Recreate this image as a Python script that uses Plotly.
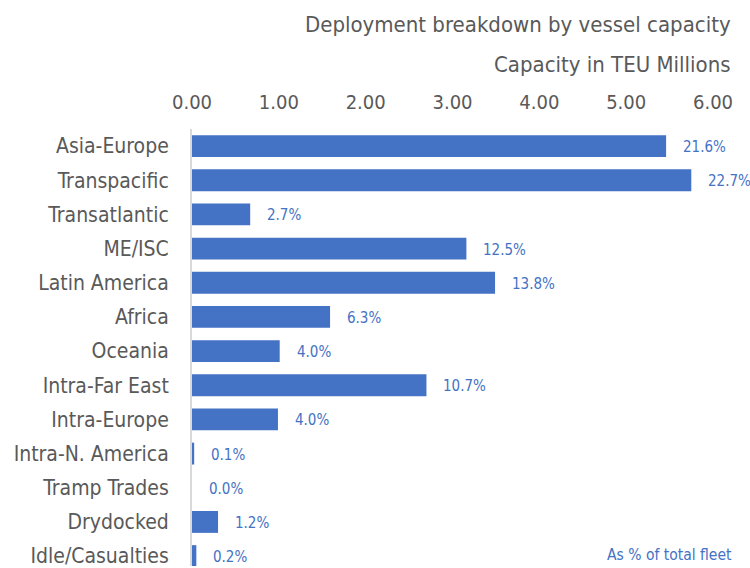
import plotly.graph_objects as go

categories = ["Asia-Europe", "Transpacific", "Transatlantic", "ME/ISC", "Latin America",
              "Africa", "Oceania", "Intra-Far East", "Intra-Europe", "Intra-N. America",
              "Tramp Trades", "Drydocked", "Idle/Casualties"]
capacity_m = [5.46, 5.75, 0.67, 3.16, 3.49, 1.59, 1.01, 2.70, 0.99, 0.025, 0.0, 0.30, 0.05]
share_labels = ["21.6%", "22.7%", "2.7%", "12.5%", "13.8%", "6.3%", "4.0%", "10.7%",
                "4.0%", "0.1%", "0.0%", "1.2%", "0.2%"]
x_ticks = [0, 1, 2, 3, 4, 5, 6]
x_tick_text = ["0.00", "1.00", "2.00", "3.00", "4.00", "5.00", "6.00"]

FONT = "DejaVu Sans Condensed, Liberation Sans Narrow, Roboto, sans-serif"
BLUE = "#4472C4"
GRAY = "#595959"

fig = go.Figure()
fig.add_trace(go.Bar(
    y=categories, x=capacity_m, orientation="h",
    marker=dict(color=BLUE, line=dict(width=0)),
    width=0.64, hoverinfo="skip",
))

for cat, val, lab in zip(categories, capacity_m, share_labels):
    fig.add_annotation(x=val, y=cat, xref="x", yref="y", text=lab, showarrow=False,
                       xanchor="left", yanchor="middle", xshift=15, yshift=-1,
                       font=dict(family=FONT, size=15, color=BLUE))

fig.add_annotation(x=1, y=1, xref="paper", yref="paper", xshift=20, yshift=105,
                   text="Deployment breakdown by vessel capacity", showarrow=False,
                   xanchor="right", yanchor="middle",
                   font=dict(family=FONT, size=22, color=GRAY))
fig.add_annotation(x=1, y=1, xref="paper", yref="paper", xshift=20, yshift=65,
                   text="Capacity in TEU Millions", showarrow=False,
                   xanchor="right", yanchor="middle",
                   font=dict(family=FONT, size=22, color=GRAY))
fig.add_annotation(x=1, y=0, xref="paper", yref="paper", xshift=21, yshift=11,
                   text="As % of total fleet", showarrow=False,
                   xanchor="right", yanchor="middle",
                   font=dict(family=FONT, size=15.5, color=BLUE))

fig.update_layout(
    width=750, height=568,
    margin=dict(l=192, r=37, t=129, b=0),
    paper_bgcolor="white", plot_bgcolor="white",
    showlegend=False,
    font=dict(family=FONT, color=GRAY),
    xaxis=dict(side="top", range=[0, 6], tickvals=x_ticks, ticktext=x_tick_text,
               showgrid=False, zeroline=False, showline=False,
               tickfont=dict(family=FONT, size=20, color=GRAY),
               ticks="", ticklabelstandoff=15, fixedrange=True),
    yaxis=dict(range=[12.29, -0.5], showgrid=False, zeroline=False,
               showline=True, linecolor="#d9d9d9", linewidth=2,
               tickfont=dict(family=FONT, size=21, color=GRAY),
               ticks="", ticklabelstandoff=17, fixedrange=True),
)

fig.write_html("out.html")
